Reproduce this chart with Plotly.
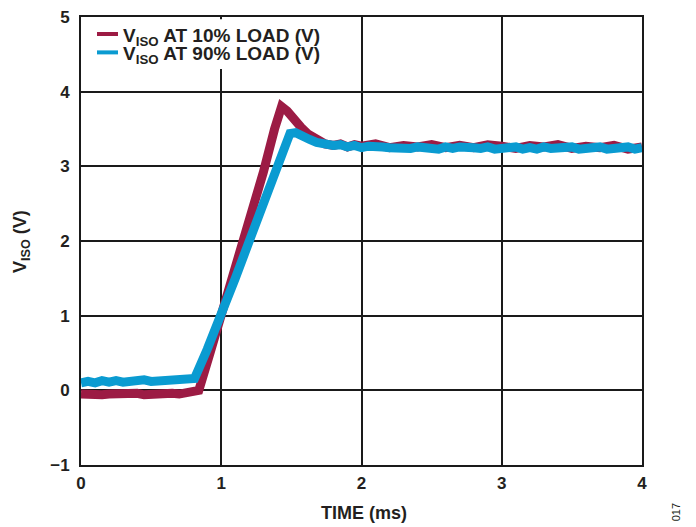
import plotly.graph_objects as go

# ---- data ----
red_t = [0.00, 0.05, 0.10, 0.15, 0.20, 0.25, 0.30, 0.35, 0.40, 0.45, 0.50, 0.55, 0.60, 0.65,
         0.70, 0.75, 0.80, 0.84, 0.92, 1.00, 1.10, 1.20, 1.30, 1.38, 1.43, 1.47, 1.52, 1.57,
         1.62, 1.68, 1.74, 1.80, 1.85, 1.90, 1.95, 2.00, 2.10, 2.20, 2.30, 2.40, 2.50, 2.60,
         2.70, 2.80, 2.90, 3.00, 3.10, 3.20, 3.30, 3.40, 3.50, 3.60, 3.70, 3.80, 3.90, 4.00]
red_v = [-0.05, -0.06, -0.04, -0.06, -0.05, -0.04, -0.06, -0.05, -0.04, -0.06, -0.05, -0.04,
         -0.06, -0.04, -0.05, -0.04, -0.03, 0.00, 0.50, 1.00, 1.62, 2.28, 2.92, 3.50, 3.80,
         3.74, 3.62, 3.52, 3.43, 3.35, 3.30, 3.28, 3.30, 3.26, 3.29, 3.27, 3.30, 3.25, 3.28,
         3.26, 3.29, 3.25, 3.28, 3.25, 3.29, 3.27, 3.24, 3.28, 3.26, 3.29, 3.24, 3.27, 3.25,
         3.28, 3.23, 3.26]

blue_t = [0.00, 0.05, 0.10, 0.15, 0.20, 0.25, 0.30, 0.35, 0.40, 0.45, 0.50, 0.55, 0.60, 0.65,
          0.70, 0.75, 0.81, 0.90, 1.00, 1.10, 1.20, 1.30, 1.40, 1.49, 1.53, 1.58, 1.63, 1.68,
          1.72, 1.76, 1.80, 1.85, 1.90, 1.95, 2.00, 2.05, 2.10, 2.15, 2.20, 2.25, 2.30, 2.35,
          2.40, 2.45, 2.50, 2.55, 2.60, 2.65, 2.70, 2.75, 2.80, 2.85, 2.90, 2.95, 3.00, 3.05,
          3.10, 3.15, 3.20, 3.25, 3.30, 3.35, 3.40, 3.45, 3.50, 3.55, 3.60, 3.65, 3.70, 3.75,
          3.80, 3.85, 3.90, 3.95, 4.00]
blue_v = [0.10, 0.12, 0.10, 0.13, 0.11, 0.13, 0.11, 0.13, 0.12, 0.14, 0.12, 0.13, 0.14, 0.12,
          0.14, 0.14, 0.16, 0.55, 1.00, 1.50, 2.00, 2.50, 3.00, 3.44, 3.45, 3.42, 3.36, 3.32,
          3.30, 3.30, 3.28, 3.29, 3.26, 3.28, 3.25, 3.27, 3.25, 3.26, 3.25, 3.24, 3.26, 3.24,
          3.26, 3.24, 3.25, 3.23, 3.26, 3.24, 3.26, 3.24, 3.25, 3.24, 3.26, 3.23, 3.25, 3.24,
          3.26, 3.23, 3.25, 3.23, 3.26, 3.24, 3.25, 3.23, 3.26, 3.23, 3.25, 3.24, 3.26, 3.23,
          3.25, 3.24, 3.26, 3.23, 3.25]

x_ticks = [0, 1, 2, 3, 4]
y_ticks = [-1, 0, 1, 2, 3, 4, 5]

red_name = "V<sub>ISO</sub> AT 10% LOAD (V)"
blue_name = "V<sub>ISO</sub> AT 90% LOAD (V)"
x_title = "TIME (ms)"
y_title = "V<sub>ISO</sub> (V)"
fig_code = "017"

RED = "#9C1B44"
BLUE = "#0A9BD1"
INK = "#231f20"
FONT = "Liberation Sans, Arial, sans-serif"

fig = go.Figure()
fig.add_trace(go.Scatter(x=red_t, y=red_v, mode="lines", name=red_name,
                         line=dict(color=RED, width=9)))
fig.add_trace(go.Scatter(x=blue_t, y=blue_v, mode="lines", name=blue_name,
                         line=dict(color=BLUE, width=9)))

axis_common = dict(showgrid=True, gridcolor="#1a1a1a", gridwidth=1.5,
                   showline=True, linecolor="#1a1a1a", linewidth=2, mirror=True,
                   zeroline=False, ticks="", automargin=False, ticklabeloverflow="allow",
                   tickfont=dict(family=FONT, size=17, color=INK, weight="bold"))

fig.update_xaxes(range=[0, 4], tickvals=x_ticks, ticklabelstandoff=2, **axis_common)
fig.update_yaxes(range=[-1, 5], tickvals=y_ticks, ticklabelstandoff=6, **axis_common)

# axis titles
fig.add_annotation(text="<b>" + x_title + "</b>", xref="paper", yref="paper",
                   x=0.504, y=-0.107, xanchor="center", yanchor="middle", showarrow=False,
                   font=dict(family=FONT, size=18, color=INK))
fig.add_annotation(text="<b>" + y_title + "</b>", xref="paper", yref="paper",
                   x=-0.107, y=0.50, xanchor="center", yanchor="middle", showarrow=False,
                   textangle=-90, font=dict(family=FONT, size=18, color=INK))
fig.add_annotation(text=fig_code, xref="paper", yref="paper", x=1.061, y=-0.105,
                   xanchor="center", yanchor="middle", showarrow=False, textangle=-90,
                   font=dict(family=FONT, size=11, color=INK))

# legend (white box with swatches and labels)
fig.add_shape(type="rect", xref="paper", yref="paper", x0=0.012, x1=0.45, y0=0.884, y1=0.995,
              fillcolor="white", line=dict(width=0), layer="above")
legend_rows = [(red_name, RED, 0.962), (blue_name, BLUE, 0.921)]
for name, color, yy in legend_rows:
    fig.add_shape(type="line", xref="paper", yref="paper", x0=0.0285, x1=0.066, y0=yy, y1=yy,
                  line=dict(color=color, width=4), layer="above")
    fig.add_annotation(text="<b>" + name + "</b>", xref="paper", yref="paper",
                       x=0.072, y=yy - 0.006, xanchor="left", yanchor="middle", showarrow=False,
                       font=dict(family=FONT, size=19, color=INK))

fig.update_layout(
    width=688, height=519,
    margin=dict(l=73, r=54, t=9, b=62),
    paper_bgcolor="white", plot_bgcolor="white",
    showlegend=False,
    font=dict(family=FONT, color=INK),
)

fig.write_html("out.html")
